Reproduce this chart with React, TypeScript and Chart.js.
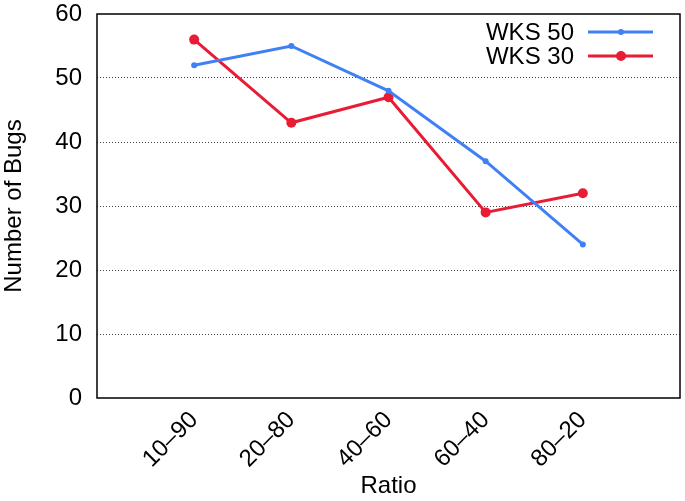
import React, { useEffect, useRef } from "react";
import { Chart, registerables } from "chart.js";

Chart.register(...registerables);

const categories = ["10–90", "20–80", "40–60", "60–40", "80–20"];
const wks50 = [52, 55, 48, 37, 24];
const wks30 = [56, 43, 47, 29, 32];
const seriesNames = ["WKS 50", "WKS 30"];
const yTicks = [0, 10, 20, 30, 40, 50, 60];

const BLUE = "rgb(64,128,245)";
const RED = "rgb(232,28,52)";
const FONT = "'Liberation Sans', Arial, Helvetica, sans-serif";

const framePlugin = {
  id: "frame",
  afterDraw(chart: any) {
    const { ctx, chartArea } = chart;
    ctx.save();
    ctx.strokeStyle = "#000";
    ctx.lineWidth = 1.5;
    ctx.strokeRect(chartArea.left, chartArea.top, chartArea.right - chartArea.left, chartArea.bottom - chartArea.top);
    ctx.restore();
  },
};

const legendPlugin = {
  id: "customLegend",
  afterDraw(chart: any) {
    const { ctx } = chart;
    ctx.save();
    ctx.font = `24px ${FONT}`;
    ctx.textAlign = "right";
    ctx.textBaseline = "middle";
    chart.data.datasets.forEach((ds: any, i: number) => {
      const y = 32 + i * 24;
      ctx.fillStyle = "#000";
      ctx.fillText(ds.label, 574, y + 1);
      ctx.strokeStyle = ds.borderColor;
      ctx.lineWidth = 3;
      ctx.beginPath();
      ctx.moveTo(588, y);
      ctx.lineTo(653, y);
      ctx.stroke();
      ctx.fillStyle = ds.borderColor;
      ctx.beginPath();
      ctx.arc(621, y, ds.pointRadius, 0, Math.PI * 2);
      ctx.fill();
    });
    ctx.restore();
  },
};

export default function App() {
  const ref = useRef<HTMLCanvasElement>(null);
  useEffect(() => {
    document.body.style.margin = "0";
    const labels = ["", ...categories, ""];
    const chart = new Chart(ref.current!, {
      type: "line",
      data: {
        labels,
        datasets: [
          {
            label: seriesNames[0],
            data: [null, ...wks50, null],
            borderColor: BLUE,
            backgroundColor: BLUE,
            borderWidth: 3,
            pointRadius: 3,
            pointBorderWidth: 0,
            tension: 0,
          },
          {
            label: seriesNames[1],
            data: [null, ...wks30, null],
            borderColor: RED,
            backgroundColor: RED,
            borderWidth: 3,
            pointRadius: 5,
            pointBorderWidth: 0,
            tension: 0,
          },
        ],
      },
      options: {
        animation: false,
        responsive: false,
        maintainAspectRatio: false,
        layout: { padding: { top: 14, right: 3, left: 0, bottom: 0 } },
        plugins: { legend: { display: false }, tooltip: { enabled: false } },
        scales: {
          x: {
            offset: false,
            grid: { display: false, drawTicks: false },
            border: { display: false },
            ticks: {
              minRotation: 45,
              maxRotation: 45,
              autoSkip: false,
              padding: 8,
              color: "#000",
              font: { family: FONT, size: 24 },
            },
            title: {
              display: true,
              text: "Ratio",
              color: "#000",
              font: { family: FONT, size: 24 },
              padding: { top: 0, bottom: 0 },
            },
            afterFit(scale: any) {
              scale.height = 103;
              scale.paddingLeft = 0;
              scale.paddingRight = 0;
            },
          },
          y: {
            min: 0,
            max: 60,
            afterBuildTicks(scale: any) {
              scale.ticks = yTicks.map((v) => ({ value: v }));
            },
            grid: {
              drawTicks: false,
              color: (c: any) => (c.tick && (c.tick.value === 0 || c.tick.value === 60) ? "rgba(0,0,0,0)" : "#444"),
              lineWidth: 1,
            },
            border: { display: false, dash: [1, 2] },
            ticks: {
              padding: 15,
              color: "#000",
              font: { family: FONT, size: 24 },
            },
            title: {
              display: true,
              text: "Number of Bugs",
              color: "#000",
              font: { family: FONT, size: 24 },
              padding: { top: 0, bottom: 0 },
            },
            afterFit(scale: any) {
              scale.width = 97;
              scale.paddingTop = 0;
              scale.paddingBottom = 0;
            },
          },
        },
      },
      plugins: [framePlugin, legendPlugin],
    });
    return () => chart.destroy();
  }, []);
  return (
    <div style={{ position: "absolute", left: 0, top: 0, width: 685, height: 501 }}>
      <canvas ref={ref} width={685} height={501} style={{ width: 685, height: 501, display: "block" }} />
    </div>
  );
}
